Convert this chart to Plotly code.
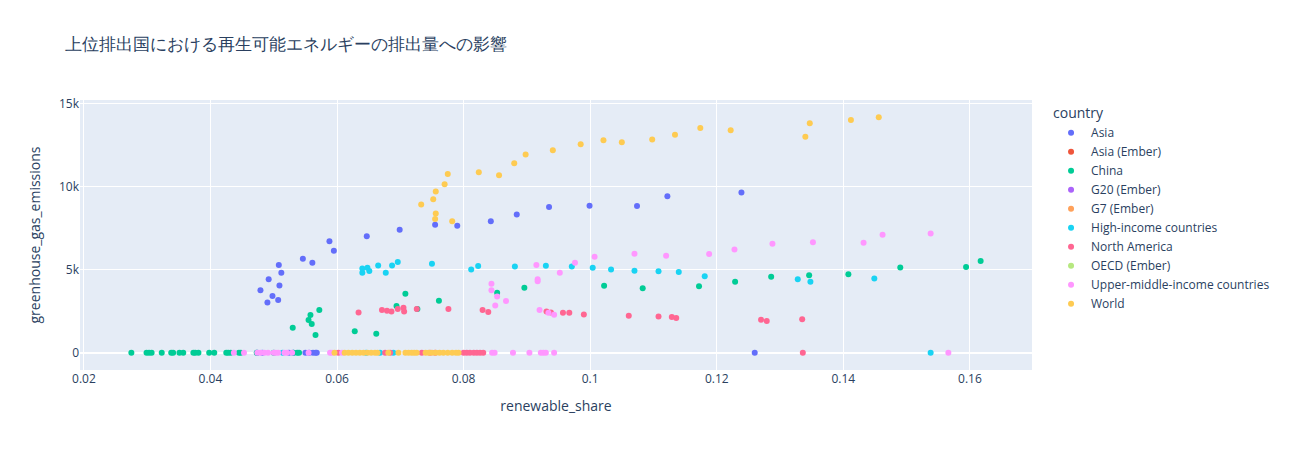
import plotly.graph_objects as go

# ---- data (renewable_share, greenhouse_gas_emissions) ----
asia_share = [0.0479, 0.0490, 0.0492, 0.0498, 0.0507, 0.0509, 0.0508, 0.0512, 0.0546, 0.0561,
              0.0588, 0.0595, 0.0647, 0.0699, 0.0755, 0.0790, 0.0843, 0.0884, 0.0935, 0.0999,
              0.1074, 0.1122, 0.1239, 0.1260,
              0.0474, 0.0482, 0.0524, 0.0531, 0.0550, 0.0556, 0.0562, 0.0566, 0.0568]
asia_ghg = [3770, 3030, 4420, 3410, 3170, 4050, 5280, 4810, 5660, 5420,
            6720, 6140, 7020, 7400, 7700, 7640, 7920, 8330, 8770, 8850,
            8830, 9430, 9650, 0,
            0, 0, 0, 0, 0, 0, 0, 0, 0]

ember_asia_share = [None]
ember_asia_ghg = [None]
g20_share = [None]
g20_ghg = [None]
g7_share = [None]
g7_ghg = [None]
oecd_share = [None]
oecd_ghg = [None]

china_share = [0.0530, 0.0558, 0.0555, 0.0560, 0.0566, 0.0572, 0.0628, 0.0662, 0.0694, 0.0708,
               0.0727, 0.0761, 0.0853, 0.0896, 0.1022, 0.1083, 0.1172, 0.1229, 0.1286, 0.1346,
               0.1408, 0.1490, 0.1594, 0.1617,
               0.0275, 0.0299, 0.0303, 0.0307, 0.0323, 0.0338, 0.0341, 0.0351, 0.0357, 0.0373,
               0.0376, 0.0381, 0.0398, 0.0406, 0.0425, 0.0428, 0.0432, 0.0445, 0.0448, 0.0473,
               0.0500, 0.0531, 0.0537, 0.0540]
china_ghg = [1510, 2270, 1970, 1730, 1070, 2570, 1290, 1140, 2810, 3550,
             2630, 3130, 3610, 3910, 4030, 3890, 4010, 4270, 4570, 4660,
             4720, 5140, 5170, 5520,
             0, 0, 0, 0, 0, 0, 0, 0, 0, 0,
             0, 0, 0, 0, 0, 0, 0, 0, 0, 0,
             0, 0, 0, 0]

high_share = [0.0640, 0.0640, 0.0648, 0.0651, 0.0665, 0.0677, 0.0687, 0.0696, 0.0750, 0.0812,
              0.0823, 0.0881, 0.0930, 0.0971, 0.1004, 0.1033, 0.1070, 0.1108, 0.1140, 0.1181,
              0.1328, 0.1348, 0.1449, 0.1538,
              0.0514, 0.0646, 0.0668, 0.0689]
high_ghg = [5080, 4810, 5120, 4920, 5260, 4810, 5260, 5460, 5360, 5020,
            5220, 5200, 5240, 5200, 5120, 5020, 4940, 4900, 4860, 4600,
            4430, 4270, 4470, 0,
            0, 0, 0, 0]

na_share = [0.0634, 0.0671, 0.0679, 0.0686, 0.0696, 0.0705, 0.0706, 0.0726, 0.0776, 0.0830,
            0.0839, 0.0931, 0.0938, 0.0957, 0.0967, 0.0990, 0.1061, 0.1108, 0.1129, 0.1136,
            0.1270, 0.1279, 0.1335, 0.1336,
            0.0602, 0.0676, 0.0684, 0.0734, 0.0747, 0.0755, 0.0800, 0.0805, 0.0810, 0.0816,
            0.0821, 0.0826, 0.0831]
na_ghg = [2430, 2570, 2530, 2490, 2630, 2710, 2490, 2630, 2630, 2570,
          2450, 2490, 2430, 2410, 2410, 2310, 2230, 2190, 2150, 2090,
          1990, 1910, 2010, 0,
          0, 0, 0, 0, 0, 0, 0, 0, 0, 0,
          0, 0, 0]

umic_share = [0.0915, 0.0976, 0.1007, 0.1070, 0.1120, 0.1188, 0.1228, 0.0952, 0.0917, 0.0917,
              0.0844, 0.0844, 0.0853, 0.0867, 0.0850, 0.0920, 0.0934, 0.0943, 0.1288, 0.1352,
              0.1432, 0.1462, 0.1538, 0.1566,
              0.0437, 0.0453, 0.0474, 0.0479, 0.0485, 0.0491, 0.0500, 0.0503, 0.0507, 0.0517,
              0.0521, 0.0529, 0.0555, 0.0589, 0.0592, 0.0608, 0.0845, 0.0849, 0.0878, 0.0904,
              0.0922, 0.0926, 0.0930, 0.0943]
umic_ghg = [5280, 5420, 5780, 5960, 5840, 5940, 6220, 4810, 4430, 4300,
            4150, 3770, 3390, 3110, 2850, 2570, 2410, 2290, 6560, 6660,
            6620, 7100, 7180, 0,
            0, 0, 0, 0, 0, 0, 0, 0, 0, 0,
            0, 0, 0, 0, 0, 0, 0, 0, 0, 0,
            0, 0, 0, 0]

world_share = [0.0733, 0.0752, 0.0756, 0.0770, 0.0775, 0.0756, 0.0755, 0.0782, 0.0824, 0.0856,
               0.0880, 0.0898, 0.0941, 0.0985, 0.1021, 0.1050, 0.1098, 0.1134, 0.1174, 0.1222,
               0.1340, 0.1347, 0.1412, 0.1456,
               0.0596, 0.0612, 0.0618, 0.0624, 0.0630, 0.0636, 0.0642, 0.0648, 0.0654, 0.0660,
               0.0664, 0.0681, 0.0697, 0.0708, 0.0713, 0.0718, 0.0722, 0.0726, 0.0740, 0.0745,
               0.0750, 0.0756, 0.0762, 0.0768, 0.0775, 0.0782, 0.0788, 0.0792]
world_ghg = [8930, 9250, 9710, 10150, 10770, 8390, 8060, 7920, 10870, 10690,
             11410, 11940, 12200, 12560, 12800, 12680, 12840, 13120, 13540, 13400,
             13000, 13820, 14020, 14180,
             0, 0, 0, 0, 0, 0, 0, 0, 0, 0,
             0, 0, 0, 0, 0, 0, 0, 0, 0, 0,
             0, 0, 0, 0, 0, 0, 0, 0]

series = [
    ("Asia", asia_share, asia_ghg, "#636efa"),
    ("Asia (Ember)", ember_asia_share, ember_asia_ghg, "#EF553B"),
    ("China", china_share, china_ghg, "#00cc96"),
    ("G20 (Ember)", g20_share, g20_ghg, "#ab63fa"),
    ("G7 (Ember)", g7_share, g7_ghg, "#FFA15A"),
    ("High-income countries", high_share, high_ghg, "#19d3f3"),
    ("North America", na_share, na_ghg, "#FF6692"),
    ("OECD (Ember)", oecd_share, oecd_ghg, "#B6E880"),
    ("Upper-middle-income countries", umic_share, umic_ghg, "#FF97FF"),
    ("World", world_share, world_ghg, "#FECB52"),
]

fig = go.Figure()
for name, xs, ys, color in series:
    fig.add_trace(go.Scatter(x=xs, y=ys, mode="markers", name=name,
                             marker=dict(color=color, symbol="circle"),
                             showlegend=True))

fig.update_layout(
    template="plotly",
    width=1298, height=450,
    title=dict(text="上位排出国における再生可能エネルギーの排出量への影響"),
    xaxis_title="renewable_share",
    yaxis_title="greenhouse_gas_emissions",
    legend_title_text="country",
    legend_tracegroupgap=0,
    margin=dict(t=100, b=80, l=80, r=266),
)

fig.write_html("out.html", config={"displayModeBar": False},
               post_script="document.body.style.margin='0';")
